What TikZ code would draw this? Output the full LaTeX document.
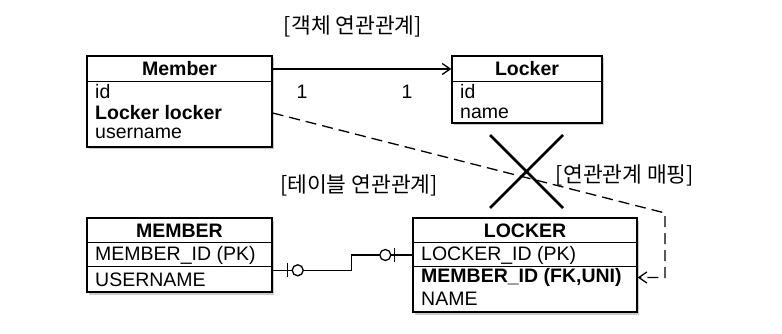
\documentclass[tikz,border=0pt]{standalone}
\usepackage{fontspec}
\setmainfont{Liberation Sans}
\newfontfamily\kr{Noto Sans CJK KR}
\usetikzlibrary{arrows.meta,shadows,calc}
\begin{document}
\begin{tikzpicture}[x=1pt,y=-1pt,
  box/.style={draw,line width=1.4pt,fill=white,inner sep=0pt,
    drop shadow={shadow xshift=2pt,shadow yshift=-2.5pt,fill=black!45,opacity=0.45}},
  hdr/.style={font=\fontsize{19.5}{21}\selectfont\bfseries,inner sep=0pt},
  rowtxt/.style={font=\fontsize{19.5}{21}\selectfont,anchor=west,inner sep=0pt},
  rowbold/.style={font=\fontsize{19.5}{21}\selectfont\bfseries,anchor=west,inner sep=0pt},
  lbl/.style={font=\kr\fontsize{21.5}{23}\selectfont,inner sep=0pt},
  conn/.style={line width=1.3pt},
  tip/.style={-{Straight Barb[length=8pt,width=11pt,line width=1.3pt]}},
]
\useasboundingbox (0,0) rectangle (782,334);

% titles
\node[lbl] (t1) at (353,26) {[객체 연관관계]};
\node[lbl] (t2) at (359,185) {[테이블 연관관계]};
\node[lbl] (t3) at (625,175) {[연관관계 매핑]};

% Member (object)
\node[box,minimum width=185pt,minimum height=91pt] (member) at (179.5,101.5) {};
\draw[line width=1.4pt] (member.north west) ++(0,26) -- ++(185,0);
\node[hdr] (memberh) at (179.5,69) {Member};
\node[rowtxt] (mid) at (95,92) {id};
\node[rowbold] (mlocker) at (95,113) {Locker locker};
\node[rowtxt] (muser) at (95,133.5) {username};

% Locker (object)
\node[box,minimum width=150pt,minimum height=67pt] (locker) at (527,89.5) {};
\draw[line width=1.4pt] (locker.north west) ++(0,26) -- ++(150,0);
\node[hdr] (lockerh) at (527,69) {Locker};
\node[rowtxt] (lid) at (460,92) {id};
\node[rowtxt] (lname) at (460,113) {name};

% MEMBER (table)
\node[box,minimum width=185pt,minimum height=74pt] (tmember) at (179.5,255) {};
\draw[line width=1.4pt] (tmember.north west) ++(0,25) -- ++(185,0);
\draw[line width=1.4pt] (tmember.north west) ++(0,49) -- ++(185,0);
\node[hdr] (tmemberh) at (179.5,230.5) {MEMBER};
\node[rowtxt] (tmid) at (95,255) {MEMBER\_ID (PK)};
\node[rowtxt] (tmuser) at (95,279.5) {USERNAME};

% LOCKER (table)
\node[box,minimum width=224pt,minimum height=94pt] (tlocker) at (525,265) {};
\draw[line width=1.4pt] (tlocker.north west) ++(0,25) -- ++(224,0);
\draw[line width=1.4pt] (tlocker.north west) ++(0,49) -- ++(224,0);
\node[hdr] (tlockerh) at (525,230.5) {LOCKER};
\node[rowtxt] (tlid) at (421,255) {LOCKER\_ID (PK)};
\node[rowbold] (tlmid) at (421,277.5) {MEMBER\_ID (FK,UNI)};
\node[rowtxt] (tlname) at (421,298.5) {NAME};

% object association
\draw[conn,tip] (member.east |- memberh) -- (locker.west |- memberh);
\node[rowtxt,anchor=center] (one1) at (302,92) {1};
\node[rowtxt,anchor=center] (one2) at (407,92) {1};

% mapping (dashed)
\coordinate (bend) at (665,213);
\draw[conn,tip,dash pattern=on 11pt off 6pt] (member.east |- mlocker) -- (bend) |- (tlocker.east |- tlmid);

% cross
\draw[line width=2.6pt] (490,135) -- (563,208) (563,135) -- (490,208);

% table relation
\coordinate (ms) at ([yshift=-53pt]tmember.north east);
\draw[conn] (ms) -- ++(79,0) |- (tlocker.west |- tlid);
\draw[conn] ([xshift=15pt]ms) ++(0,-7) -- ++(0,14);
\draw[conn,fill=white] ([xshift=25pt]ms) circle (5.5pt);
\draw[conn] ([xshift=-18pt]tlocker.west |- tlid) ++(0,-7) -- ++(0,14);
\draw[conn,fill=white] ([xshift=-27pt]tlocker.west |- tlid) circle (5.5pt);
\end{tikzpicture}
\end{document}
